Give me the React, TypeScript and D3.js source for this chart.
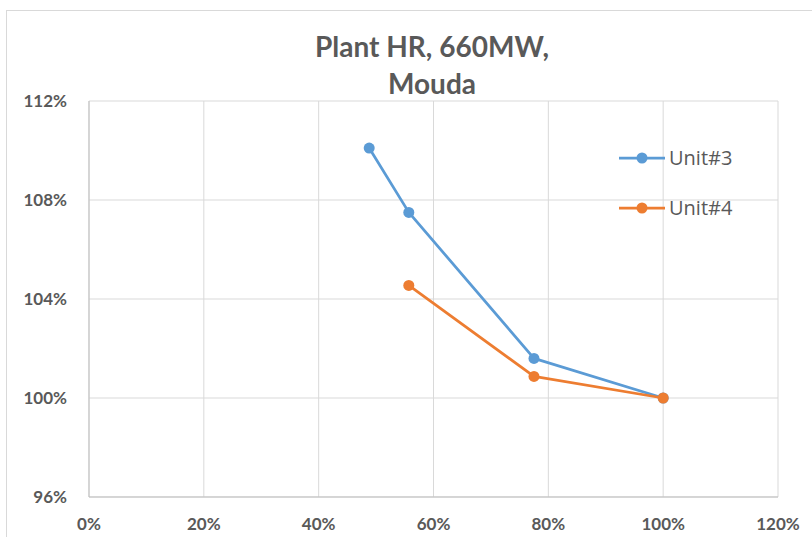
import React from "react";
import * as d3 from "d3";

const xTicks = [0, 0.2, 0.4, 0.6, 0.8, 1.0, 1.2];
const yTicks = [0.96, 1.0, 1.04, 1.08, 1.12];
const seriesNames = ["Unit#3", "Unit#4"];
const seriesColors = ["#5B9BD5", "#ED7D31"];
const unit3Load = [0.488, 0.557, 0.775, 1.0];
const unit3HR = [1.101, 1.075, 1.016, 1.0];
const unit4Load = [0.557, 0.775, 1.0];
const unit4HR = [1.0455, 1.0087, 1.0];

const W = 812;
const H = 537;
const M = { left: 89, right: 778, top: 101, bottom: 497 };

export default function App() {
  const x = d3.scaleLinear().domain([0, 1.2]).range([M.left, M.right]);
  const y = d3.scaleLinear().domain([0.96, 1.12]).range([M.bottom, M.top]);
  const line = d3
    .line<[number, number]>()
    .x((d) => x(d[0]))
    .y((d) => y(d[1]));
  const series = [
    { name: seriesNames[0], color: seriesColors[0], pts: unit3Load.map((v, i) => [v, unit3HR[i]] as [number, number]) },
    { name: seriesNames[1], color: seriesColors[1], pts: unit4Load.map((v, i) => [v, unit4HR[i]] as [number, number]) },
  ];
  const pct = d3.format(".0%");
  const font = "Lato, 'Open Sans', sans-serif";
  return (
    <svg
      width={W}
      height={H}
      style={{ position: "absolute", left: 0, top: 0, background: "#fff" }}
    >
      <rect x={6.5} y={10.5} width={W} height={H} fill="#fff" stroke="#d9d9d9" strokeWidth={1} />
      <text x={432} y={57} textAnchor="middle" fontFamily={font} fontWeight="bold" fontSize={28} fill="#595959">
        Plant HR, 660MW,
      </text>
      <text x={432} y={94} textAnchor="middle" fontFamily={font} fontWeight="bold" fontSize={28} fill="#595959">
        Mouda
      </text>
      {xTicks.map((t) => (
        <line key={"gx" + t} x1={x(t)} x2={x(t)} y1={M.top} y2={M.bottom} stroke="#d9d9d9" strokeWidth={1} />
      ))}
      {yTicks.map((t) => (
        <line key={"gy" + t} x1={M.left} x2={M.right} y1={y(t)} y2={y(t)} stroke="#d9d9d9" strokeWidth={1} />
      ))}
      <line x1={M.left} x2={M.right} y1={M.bottom} y2={M.bottom} stroke="#bfbfbf" strokeWidth={1} />
      <line x1={M.left} x2={M.left} y1={M.top} y2={M.bottom} stroke="#bfbfbf" strokeWidth={1} />
      {yTicks.map((t) => (
        <text key={"ty" + t} x={67} y={y(t) + 6} textAnchor="end" fontFamily={font} fontWeight="bold" fontSize={17} fill="#595959">
          {pct(t)}
        </text>
      ))}
      {xTicks.map((t) => (
        <text key={"tx" + t} x={x(t)} y={530} textAnchor="middle" fontFamily={font} fontWeight="bold" fontSize={17} fill="#595959">
          {pct(t)}
        </text>
      ))}
      {series.map((s) => (
        <g key={s.name}>
          <path d={line(s.pts) || ""} fill="none" stroke={s.color} strokeWidth={2.75} strokeLinejoin="round" />
          {s.pts.map((p, i) => (
            <circle key={i} cx={x(p[0])} cy={y(p[1])} r={5.5} fill={s.color} />
          ))}
        </g>
      ))}
      {series.map((s, i) => {
        const ly = 158 + i * 50;
        return (
          <g key={"lg" + s.name}>
            <line x1={619} x2={665} y1={ly} y2={ly} stroke={s.color} strokeWidth={2.75} />
            <circle cx={642} cy={ly} r={5.5} fill={s.color} />
            <text x={669} y={ly + 7} fontFamily="'Open Sans', sans-serif" fontSize={20} fill="#595959">
              {s.name}
            </text>
          </g>
        );
      })}
    </svg>
  );
}
